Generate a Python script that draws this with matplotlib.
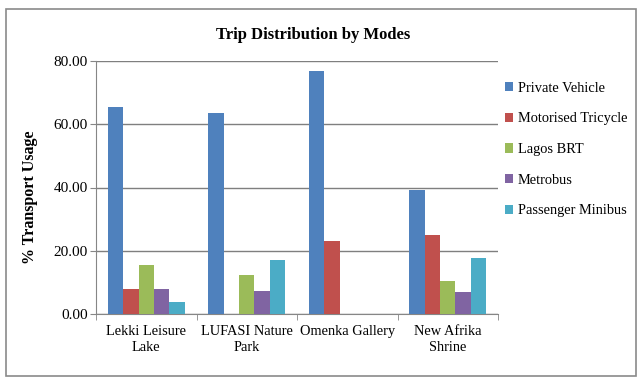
import matplotlib
matplotlib.use("Agg")
import matplotlib.pyplot as plt
import numpy as np
from matplotlib.patches import Rectangle

# data
sites = ["Lekki Leisure\nLake", "LUFASI Nature\nPark", "Omenka Gallery", "New Afrika\nShrine"]
modes = ["Private Vehicle", "Motorised Tricycle", "Lagos BRT", "Metrobus", "Passenger Minibus"]
private_vehicle = [65.4, 63.4, 76.9, 39.3]
motorised_tricycle = [7.8, 0.0, 23.2, 24.9]
lagos_brt = [15.4, 12.2, 0.0, 10.5]
metrobus = [7.8, 7.4, 0.0, 7.0]
passenger_minibus = [3.8, 17.0, 0.0, 17.8]

series = [private_vehicle, motorised_tricycle, lagos_brt, metrobus, passenger_minibus]
colors = ["#4F81BD", "#C0504D", "#9BBB59", "#8064A2", "#4BACC6"]

plt.rcParams["font.family"] = ["Liberation Serif", "DejaVu Serif"]

W, H = 641, 380
fig = plt.figure(figsize=(W / 100, H / 100), dpi=100)
ax = fig.add_axes([96 / W, 1 - 314 / H, (498 - 96) / W, (314 - 61) / H])

# outer frame of the chart area
fig.patches.append(Rectangle((6 / W, 4 / H), 630 / W, 367 / H, transform=fig.transFigure,
                             fill=False, edgecolor="#8a8a8a", linewidth=1.2))

x = np.arange(len(sites))
bw = 1 / 6.5
for i, (vals, name) in enumerate(zip(series, modes)):
    ax.bar(x + (i - 2) * bw, vals, width=bw, color=colors[i], label=name, zorder=3)

ax.set_xlim(-0.5, len(sites) - 0.5)
ax.set_ylim(0, 80)
ax.set_yticks(np.arange(0, 81, 20))
ax.set_yticklabels([f"{v:.2f}" for v in np.arange(0, 81, 20)], fontsize=11)
ax.set_xticks(x)
ax.set_xticklabels(sites, fontsize=10.4, linespacing=1.25)
ax.set_xticks(np.arange(-0.5, len(sites), 1), minor=True)
ax.tick_params(axis="x", which="major", length=0, pad=8)
ax.tick_params(axis="x", which="minor", length=4, color="#868686")
ax.tick_params(axis="y", length=4, color="#868686", pad=2)

ax.grid(axis="y", color="#7f7f7f", linewidth=1.0, zorder=0)
for s in ["top", "right"]:
    ax.spines[s].set_visible(False)
for s in ["left", "bottom"]:
    ax.spines[s].set_color("#868686")

ax.set_ylabel("% Transport Usage", fontsize=11.5, fontweight="bold")
ax.yaxis.set_label_coords(-0.144, 0.462)
fig.text(313 / W, 1 - 35 / H, "Trip Distribution by Modes", fontsize=12,
         fontweight="bold", ha="center", va="center")

fig.legend(loc="upper left", bbox_to_anchor=(499 / W, 1 - 76 / H), frameon=False,
           fontsize=10.4, handlelength=0.6, handleheight=0.6, handletextpad=0.3,
           labelspacing=1.22, borderaxespad=0)

fig.savefig("out.png", dpi=100)
